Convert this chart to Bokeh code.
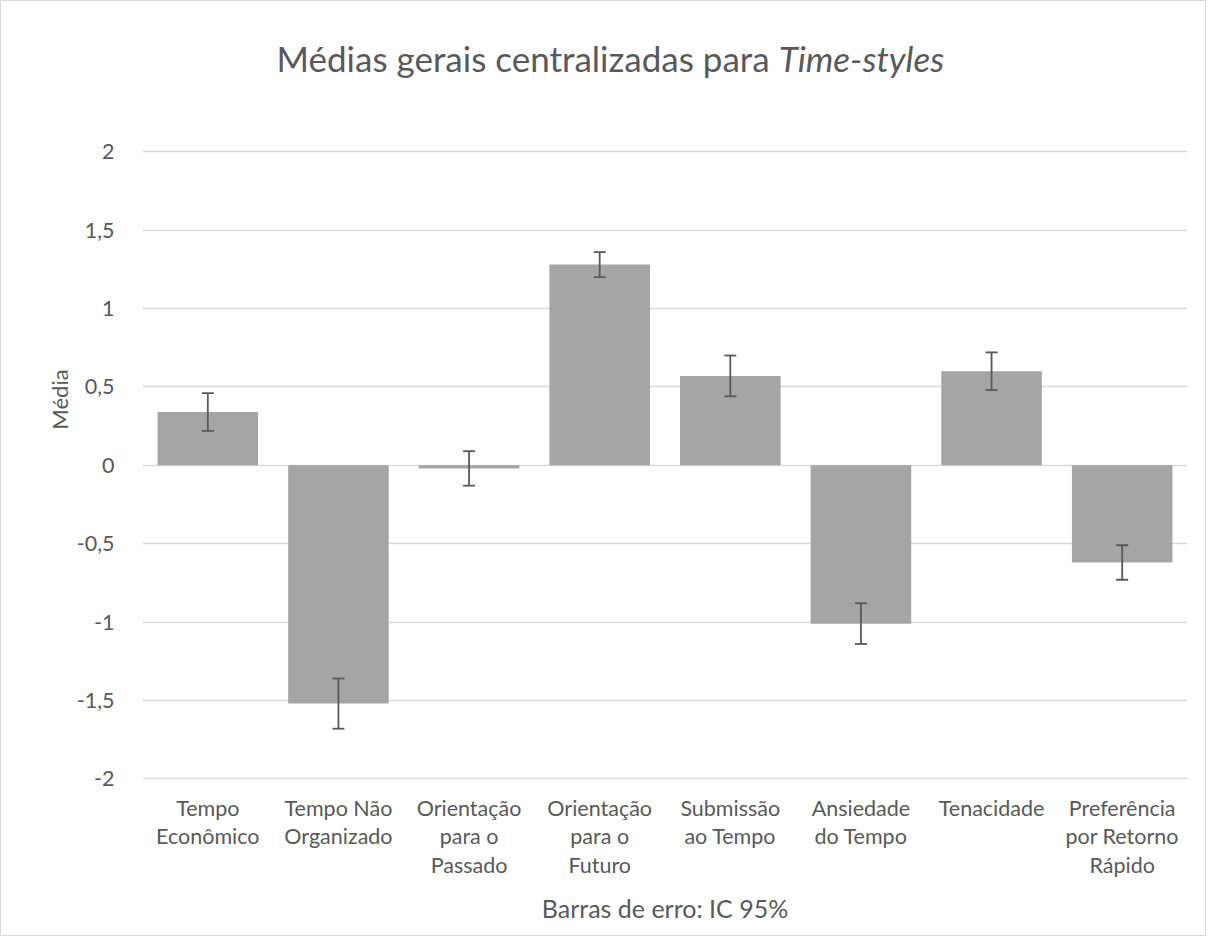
from bokeh.plotting import figure
from bokeh.models import (ColumnDataSource, Whisker, TeeHead, Label, FixedTicker,
                          Range1d, FactorRange)
from bokeh.embed import file_html
from bokeh.resources import INLINE

categories = ["Tempo\nEconômico", "Tempo Não\nOrganizado", "Orientação\npara o\nPassado",
              "Orientação\npara o\nFuturo", "Submissão\nao Tempo", "Ansiedade\ndo Tempo",
              "Tenacidade", "Preferência\npor Retorno\nRápido"]
means = [0.34, -1.52, -0.02, 1.28, 0.57, -1.01, 0.60, -0.62]
ci_upper = [0.46, -1.36, 0.09, 1.36, 0.70, -0.88, 0.72, -0.51]
ci_lower = [0.22, -1.68, -0.13, 1.20, 0.44, -1.14, 0.48, -0.73]
y_ticks = [-2, -1.5, -1, -0.5, 0, 0.5, 1, 1.5, 2]
y_tick_labels = ["-2", "-1,5", "-1", "-0,5", "0", "0,5", "1", "1,5", "2"]

FONT = "Lato"
TXT = "#595959"

src = ColumnDataSource(dict(cat=categories, mean=means, up=ci_upper, lo=ci_lower))

# frame extends up into the title area so the title can sit inside it
p = figure(width=1206, height=936, x_range=FactorRange(*categories),
           y_range=Range1d(-2.004, 2.843), output_backend="svg", toolbar_location=None,
           min_border_left=141, min_border_right=20, min_border_top=18, min_border_bottom=158)
p.styles = {"border": "1px solid #d9d9d9"}
p.outline_line_color = None
p.background_fill_color = "white"
p.border_fill_color = "white"

p.vbar(x="cat", top="mean", bottom=0, width=0.77, source=src,
       fill_color="#A5A5A5", line_color=None)

w = Whisker(base="cat", upper="up", lower="lo", source=src, dimension="height",
            line_color="#595959", line_width=1.8,
            upper_head=TeeHead(size=12, line_color="#595959", line_width=1.8),
            lower_head=TeeHead(size=12, line_color="#595959", line_width=1.8))
w.level = "overlay"
p.add_layout(w)

# y axis
p.yaxis.ticker = FixedTicker(ticks=y_ticks)
p.yaxis.major_label_overrides = {t: l for t, l in zip(y_ticks, y_tick_labels)}
p.yaxis.axis_line_color = None
p.yaxis.major_tick_line_color = None
p.yaxis.minor_tick_line_color = None
p.yaxis.major_label_text_font = FONT
p.yaxis.major_label_text_font_size = "21.5px"
p.yaxis.major_label_text_color = TXT
p.yaxis.major_label_standoff = 22
p.yaxis.axis_label = "Média"
p.yaxis.axis_label_text_font = FONT
p.yaxis.axis_label_text_font_style = "normal"
p.yaxis.axis_label_text_font_size = "22px"
p.yaxis.axis_label_text_color = TXT
p.yaxis.axis_label_standoff = 1

# x axis
p.xaxis.axis_line_color = None
p.xaxis.major_tick_line_color = None
p.xaxis.minor_tick_line_color = None
p.xaxis.major_label_text_font = FONT
p.xaxis.major_label_text_font_size = "21.5px"
p.xaxis.major_label_text_color = TXT
p.xaxis.major_label_text_line_height = 1.1
p.xaxis.major_label_standoff = 9
p.xaxis.axis_label = "Barras de erro: IC 95%"
p.xaxis.axis_label_text_font = FONT
p.xaxis.axis_label_text_font_style = "normal"
p.xaxis.axis_label_text_font_size = "25px"
p.xaxis.axis_label_text_color = TXT
p.xaxis.axis_label_standoff = 12

p.xgrid.grid_line_color = None
p.ygrid.ticker = FixedTicker(ticks=y_ticks)
p.ygrid.grid_line_color = "#D9D9D9"
p.ygrid.grid_line_width = 1.3

# title (two parts: normal + italic)
t1 = Label(x=4.87, y=2.6, text="Médias gerais centralizadas para ", text_align="right",
           text_baseline="middle", text_font=FONT, text_font_size="35px", text_color=TXT)
t2 = Label(x=4.87, y=2.6, text="Time-styles", text_align="left", text_font_style="italic",
           text_baseline="middle", text_font=FONT, text_font_size="35px", text_color=TXT)
p.add_layout(t1)
p.add_layout(t2)

open("out.html", "w").write(file_html(p, INLINE))
